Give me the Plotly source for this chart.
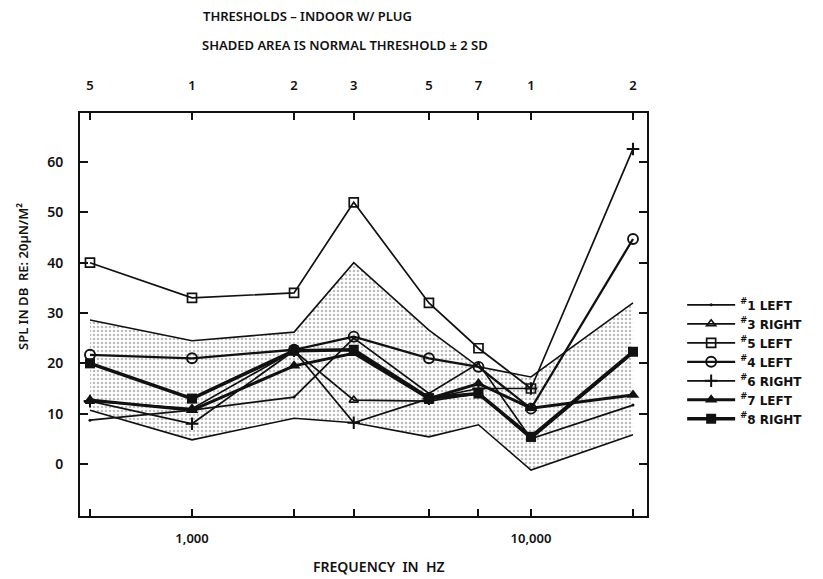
import plotly.graph_objects as go

freqs = [500, 1000, 2000, 3000, 5000, 7000, 10000, 20000]
top_labels = ["5", "1", "2", "3", "5", "7", "1", "2"]
bottom_vals = [1000, 10000]
bottom_labels = ["1,000", "10,000"]
y_ticks = [0, 10, 20, 30, 40, 50, 60]

shade_upper = [28.6, 24.5, 26.2, 40.0, 26.6, 19.3, 17.3, 32.0]
shade_lower = [10.7, 4.8, 9.1, 8.2, 5.4, 7.8, -1.2, 5.8]

s1_left = [8.7, 10.7, 13.3, 25.0, 14.0, 20.0, 5.0, 11.7]
s3_right = [12.5, 11.0, 22.5, 12.7, 12.5, 14.0, 5.0, 22.0]
s5_left = [40.0, 33.0, 34.0, 52.0, 32.0, 23.0, 15.0, None]
s4_left = [21.7, 21.0, 22.7, 25.3, 21.0, 19.3, 11.0, 44.7]
s6_right = [12.5, 8.0, 22.5, 8.2, 13.0, 15.0, 15.0, 62.6]
s7_left = [12.7, 10.7, 19.5, 22.0, 13.0, 16.0, 11.1, 13.7]
s8_right = [20.0, 13.0, 22.5, 22.7, 13.1, 14.0, 5.4, 22.3]

FONT = "Noto Sans"
INK = "#111111"
W = 600

fig = go.Figure()

# shaded normal threshold band
fig.add_trace(go.Scatter(x=freqs, y=shade_lower, mode="lines",
                         line=dict(color=INK, width=1.6), showlegend=False, hoverinfo="skip"))
fig.add_trace(go.Scatter(x=freqs, y=shade_upper, mode="lines", fill="tonexty",
                         fillcolor="rgba(0,0,0,0)",
                         fillpattern=dict(shape=".", fgcolor="#777777", bgcolor="#ffffff",
                                          size=4, solidity=0.32),
                         line=dict(color=INK, width=1.6), showlegend=False, hoverinfo="skip"))

series = [
    ("<sup>#</sup>1 LEFT", s1_left, dict(symbol="circle", size=3, color=INK), 1.7),
    ("<sup>#</sup>3 RIGHT", s3_right, dict(symbol="triangle-up-open", size=8, color=INK, line=dict(width=1.6, color=INK)), 1.7),
    ("<sup>#</sup>5 LEFT", s5_left, dict(symbol="square-open", size=9, color=INK, line=dict(width=1.7, color=INK)), 1.7),
    ("<sup>#</sup>4 LEFT", s4_left, dict(symbol="circle-open", size=10, color=INK, line=dict(width=1.9, color=INK)), 2.3),
    ("<sup>#</sup>6 RIGHT", s6_right, dict(symbol="cross-thin-open", size=9, color=INK, line=dict(width=2, color=INK)), 1.7),
    ("<sup>#</sup>7 LEFT", s7_left, dict(symbol="triangle-up", size=11, color=INK), 3.0),
    ("<sup>#</sup>8 RIGHT", s8_right, dict(symbol="square", size=10, color=INK), 3.6),
]
for name, ys, mk, w in series:
    fig.add_trace(go.Scatter(x=freqs, y=ys, mode="lines+markers", name=name,
                             line=dict(color=INK, width=w), marker=mk,
                             connectgaps=False))

# invisible trace to anchor the top axis
fig.add_trace(go.Scatter(x=freqs, y=[None] * len(freqs), xaxis="x2", showlegend=False,
                         hoverinfo="skip", mode="markers"))

xr = [2.6695, 4.3423]
fig.update_layout(
    width=823, height=579,
    margin=dict(l=80, r=176, t=113, b=63),
    paper_bgcolor="white", plot_bgcolor="white",
    font=dict(family=FONT, size=12, color=INK, weight=W),
    showlegend=True,
    legend=dict(x=1.062, y=0.56, xanchor="left", yanchor="top",
                font=dict(family="DejaVu Sans", size=12, color=INK, weight="bold"),
                traceorder="normal", tracegroupgap=0, itemwidth=48,
                bgcolor="rgba(0,0,0,0)", itemsizing="trace"),
    xaxis=dict(type="log", range=xr, tickvals=bottom_vals, ticktext=bottom_labels,
               ticks="inside", ticklen=7, tickwidth=1.5, tickcolor=INK,
               minor=dict(tickvals=freqs, ticks="inside", ticklen=7, tickwidth=1.5,
                          tickcolor=INK, showgrid=False),
               showline=True, linecolor=INK, linewidth=2, mirror="ticks",
               showgrid=False, zeroline=False, ticklabelstandoff=9,
               tickfont=dict(family=FONT, size=13, color=INK, weight=W)),
    xaxis2=dict(type="log", range=xr, overlaying="x", side="top",
                tickvals=freqs, ticktext=top_labels, ticks="", showline=False,
                showgrid=False, zeroline=False, ticklabelstandoff=19,
                tickfont=dict(family=FONT, size=13, color=INK, weight=W)),
    yaxis=dict(range=[-10.33, 69.74], tickvals=y_ticks,
               ticks="inside", ticklen=8, tickwidth=1.5, tickcolor=INK,
               showline=True, linecolor=INK, linewidth=2, mirror="ticks",
               showgrid=False, zeroline=False, ticklabelstandoff=12,
               tickfont=dict(family=FONT, size=14, color=INK, weight=W)),
)

fig.add_annotation(text="THRESHOLDS \u2013 INDOOR W/ PLUG", xref="paper", yref="paper",
                   x=(201 - 80) / 567, y=(516 - 16) / 403, xanchor="left", yanchor="middle",
                   showarrow=False, font=dict(family=FONT, size=13, color=INK, weight=W))
fig.add_annotation(text="SHADED AREA IS NORMAL THRESHOLD \u00b1 2 SD", xref="paper", yref="paper",
                   x=(200 - 80) / 567, y=(516 - 45) / 403, xanchor="left", yanchor="middle",
                   showarrow=False, font=dict(family=FONT, size=13, color=INK, weight=W))
fig.add_annotation(text="FREQUENCY  IN  HZ", xref="paper", yref="paper",
                   x=(379 - 80) / 567, y=(516 - 566) / 403, xanchor="center", yanchor="middle",
                   showarrow=False, font=dict(family=FONT, size=14, color=INK, weight=W))
fig.add_annotation(text="SPL IN DB  RE: 20\u00b5N/M\u00b2", xref="paper", yref="paper",
                   x=(23 - 80) / 567, y=(516 - 277) / 403, xanchor="center", yanchor="middle",
                   textangle=-90, showarrow=False, font=dict(family=FONT, size=13, color=INK, weight=W))

fig.write_html("out.html")
